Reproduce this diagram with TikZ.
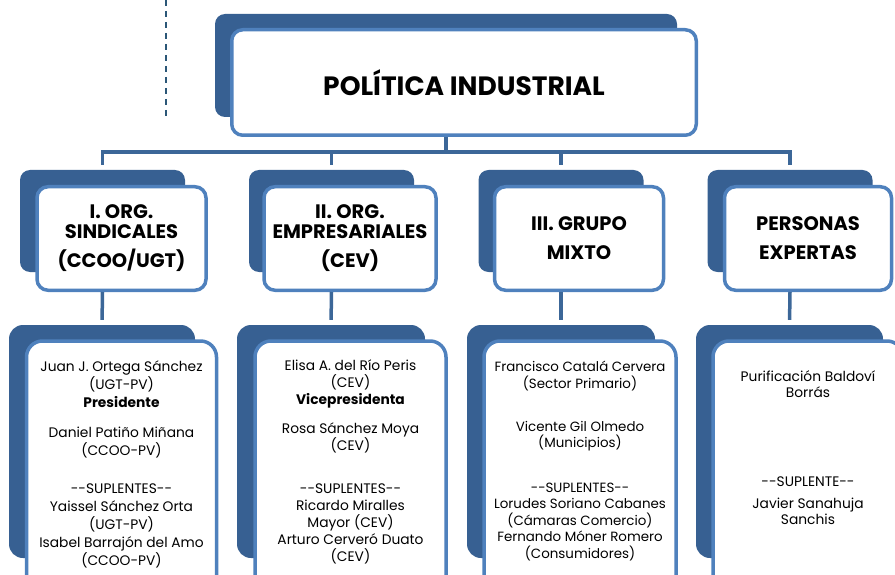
\documentclass[tikz,border=0pt]{standalone}
\usepackage{fontspec}
\setmainfont{Poppins}[Ligatures=TeXOff]
\usepackage{tikz}

\definecolor{boxdark}{HTML}{376092}
\definecolor{boxline}{HTML}{4F81BD}
\definecolor{linkblue}{HTML}{3C6798}
\definecolor{dashblue}{HTML}{2B5777}

\tikzset{
  backbox/.style={fill=boxdark, rounded corners=10pt, inner sep=0pt},
  card/.style={draw=boxline, line width=3.5pt, fill=white, rounded corners=11pt, inner sep=0pt, align=center},
  heading/.style={font=\bfseries\fontsize{19.5}{20}\selectfont},
  members/.style={inner sep=0pt, align=center, anchor=base},
  linkline/.style={draw=linkblue, line width=3.5pt},
}

\begin{document}
\begin{tikzpicture}[x=1pt,y=1pt]
                    \clip (0,0) rectangle (895,-575);
                    \draw [dashblue, line width=1.8pt, dash pattern=on 6pt off 5pt] (166,0) -- (166,-118);
                    % top box
                    \node [backbox, minimum width=462pt, minimum height=103pt] (titleback) at (446,-65.5) {};
                    \node [card, minimum width=464.5pt, minimum height=105.5pt, font=\bfseries\fontsize{26.5}{28}\selectfont] (title) at (464,-82.5) {POLÍTICA INDUSTRIAL};
                    % groups
                    \node [backbox, minimum width=165pt, minimum height=102pt] (org1back) at (102.5,-221) {};
                    \node [card, heading, minimum width=169pt, minimum height=103.5pt] (org1) at (121.5,-238.5) {I. ORG.\\SINDICALES\\[9pt](CCOO/UGT)};
                    \node [backbox, minimum width=165pt, minimum height=102pt] (org2back) at (331.5,-221) {};
                    \node [card, heading, minimum width=172pt, minimum height=103.5pt] (org2) at (350,-238.5) {II. ORG.\\EMPRESARIALES\\[9pt](CEV)};
                    \node [backbox, minimum width=165pt, minimum height=102pt] (org3back) at (561,-221) {};
                    \node [card, heading, minimum width=169pt, minimum height=103.5pt] (org3) at (579,-238.5) {III. GRUPO\\[9pt]MIXTO};
                    \node [backbox, minimum width=165pt, minimum height=102pt] (org4back) at (790,-221) {};
                    \node [card, heading, minimum width=167pt, minimum height=103.5pt] (org4) at (808,-238.5) {PERSONAS\\[9pt]EXPERTAS};
                    % members
                    \node [backbox, rounded corners=14pt, minimum width=186pt, minimum height=233pt] (mem1back) at (102,-441.5) {};
                    \node [card, rounded corners=16pt, minimum width=190pt, minimum height=262pt] (mem1) at (121.5,-472) {};
                    \node [members, font=\fontsize{13.8}{18}\selectfont] (mem1txt) at ([yshift=-226.7pt]mem1.north) {Juan J. Ortega Sánchez\\(UGT-PV)\\\textbf{Presidente}\\[11.3pt]Daniel Patiño Miñana\\(CCOO-PV)\\[20.7pt]--SUPLENTES--\\Yaissel Sánchez Orta\\(UGT-PV)\\Isabel Barrajón del Amo\\(CCOO-PV)};
                    \node [backbox, rounded corners=14pt, minimum width=188pt, minimum height=233pt] (mem2back) at (331,-441.5) {};
                    \node [card, rounded corners=16pt, minimum width=191pt, minimum height=262pt] (mem2) at (350.5,-472) {};
                    \node [members, font=\fontsize{13.8}{17}\selectfont] (mem2txt) at ([yshift=-222pt]mem2.north) {Elisa A. del Río Peris\\(CEV)\\\textbf{Vicepresidenta}\\[12.7pt]Rosa Sánchez Moya\\(CEV)\\[25.3pt]--SUPLENTES--\\Ricardo Miralles\\Mayor (CEV)\\Arturo Cerveró Duato\\(CEV)};
                    \node [backbox, rounded corners=14pt, minimum width=188pt, minimum height=233pt] (mem3back) at (561,-441.5) {};
                    \node [card, rounded corners=16pt, minimum width=192pt, minimum height=262pt] (mem3) at (580,-472) {};
                    \node [members, font=\fontsize{13.4}{16.5}\selectfont] (mem3txt) at ([yshift=-218.9pt]mem3.north) {Francisco Catalá Cervera\\(Sector Primario)\\[26.2pt]Vicente Gil Olmedo\\(Municipios)\\[28pt]--SUPLENTES--\\Lorudes Soriano Cabanes\\(Cámaras Comercio)\\Fernando Móner Romero\\(Consumidores)};
                    \node [backbox, rounded corners=14pt, minimum width=187pt, minimum height=233pt] (mem4back) at (789.5,-441.5) {};
                    \node [card, rounded corners=16pt, minimum width=190pt, minimum height=262pt] (mem4) at (808,-472) {};
                    \node [members, font=\fontsize{13.8}{16}\selectfont] (mem4txt) at ([yshift=-185pt]mem4.north) {Purificación Baldoví\\Borrás\\[73pt]--SUPLENTE--\\[5.3pt]Javier Sanahuja\\Sanchis};
                    % connectors
                    \draw [linkline] (titleback.south |- title.south) -- ++(0,-15) coordinate (bar);
                    \draw [linkline, shorten <=5pt, shorten >=5pt] (org1back.north) |- (bar) -| (org4back.north);
                    \draw [linkline, shorten >=5pt] (bar -| org2back.north) -- (org2back.north);
                    \draw [linkline, shorten >=5pt] (bar -| org3back.north) -- (org3back.north);
                    \draw [linkline, shorten >=5pt] (org1back.south |- org1.south) -- (mem1back.north);
                    \draw [linkline, shorten >=5pt] (org2back.south |- org2.south) -- (mem2back.north);
                    \draw [linkline, shorten >=5pt] (org3back.south |- org3.south) -- (mem3back.north);
                    \draw [linkline, shorten >=5pt] (org4back.south |- org4.south) -- (mem4back.north);
                \end{tikzpicture}
\end{document}
